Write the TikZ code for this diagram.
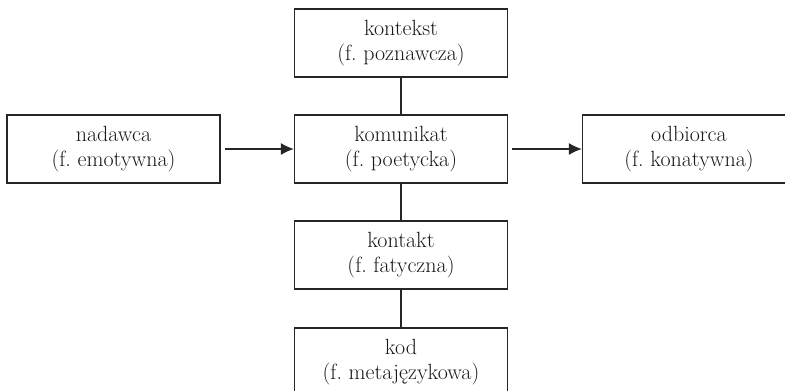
\documentclass[tikz,border=0pt]{standalone}
\usetikzlibrary{arrows.meta}
\begin{document}
\frenchspacing
\begin{tikzpicture}[x=1pt,y=-1pt,
  box/.style={draw=black!85, line width=1.3pt, minimum width=213pt, minimum height=68pt,
    inner sep=0pt, align=center, text=black!90, font=\fontsize{22}{25}\selectfont},
  link/.style={draw=black!85, line width=1.3pt},
  arr/.style={link, -{Latex[length=13pt,width=12pt]}, shorten <=4pt}]
\useasboundingbox (0,0) rectangle (785,391);
\begin{scope}
\clip (0,0) rectangle (785,391);
\node[box] (kontekst) at (401,43) {kontekst\\(f. poznawcza)};
\node[box] (nadawca) at (113.5,149) {nadawca\\(f. emotywna)};
\node[box] (komunikat) at (401,149) {komunikat\\(f. poetycka)};
\node[box] (odbiorca) at (689,149) {odbiorca\\(f. konatywna)};
\node[box] (kontakt) at (401,255) {kontakt\\(f. fatyczna)};
\node[box] (kod) at (401,362) {kod\\(f. metajęzykowa)};
\draw[arr] (nadawca.east) -- (komunikat.west);
\draw[arr] (komunikat.east) -- (odbiorca.west);
\draw[link] (kontekst.south) -- (komunikat.north);
\draw[link] (komunikat.south) -- (kontakt.north);
\draw[link] (kontakt.south) -- (kod.north);
\end{scope}
\end{tikzpicture}
\end{document}
